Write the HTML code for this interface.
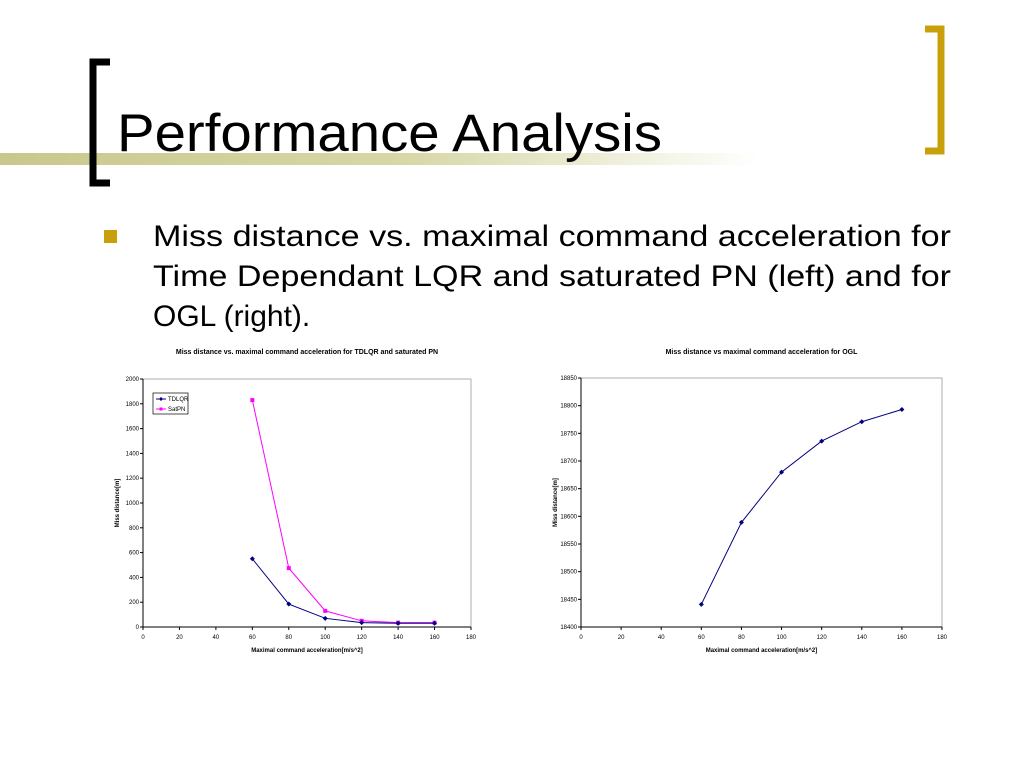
<!DOCTYPE html>
<html><head><meta charset="utf-8"><style>
body{margin:0;background:#fff;}
svg{display:block;font-family:"Liberation Sans",Arial,sans-serif;}
</style></head><body>
<svg id="root" width="1024" height="768" viewBox="0 0 1024 768">
<defs><linearGradient id="band" x1="0" x2="1"><stop offset="0" stop-color="#c8c88c"/><stop offset="0.55" stop-color="#d8d8a8"/><stop offset="1" stop-color="#ffffff"/></linearGradient></defs>
<rect x="0" y="153" width="760" height="12" fill="url(#band)"/>
<path d="M110,62 H93 V183 H110" fill="none" stroke="#000" stroke-width="7"/>
<path d="M925,29 H941 V151 H925" fill="none" stroke="#c9a00c" stroke-width="7"/>
<text x="117" y="151" font-size="53" textLength="545" lengthAdjust="spacingAndGlyphs">Performance Analysis</text>
<rect x="104" y="230" width="13" height="13" fill="#c9a00c"/>
<g font-size="30" fill="#000">
<text x="153" y="246" textLength="798" lengthAdjust="spacingAndGlyphs">Miss distance vs. maximal command acceleration for</text>
<text x="153" y="286" textLength="798" lengthAdjust="spacingAndGlyphs">Time Dependant LQR and saturated PN (left) and for</text>
<text x="153" y="326">OGL (right).</text>
</g>
<g id="c1"></g>
<g id="c2"></g>
</svg>
<script>
const xCats=[60,80,100,120,140,160];
const tdlqr=[550,185,70,35,30,30];
const satpn=[1830,475,130,50,35,35];
const ogl=[18441,18589,18680,18736,18771,18793];
const xTicks=[0,20,40,60,80,100,120,140,160,180];
const yTicks1=[0,200,400,600,800,1000,1200,1400,1600,1800,2000];
const yTicks2=[18400,18450,18500,18550,18600,18650,18700,18750,18800,18850];
const NS="http://www.w3.org/2000/svg";
function mk(p,t,a){const e=document.createElementNS(NS,t);for(const k in a)e.setAttribute(k,a[k]);p.appendChild(e);return e;}
function chart(g,o){
  const sx=v=>o.x0+(v-0)/(180)*(o.x1-o.x0);
  const sy=v=>o.y0-(v-o.ymin)/(o.ymax-o.ymin)*(o.y0-o.y1);
  const ttl=mk(g,'text',{x:(o.x0+o.x1)/2,y:o.ty,'font-size':7,'font-weight':'bold','text-anchor':'middle'});
  ttl.textContent=o.title;
  
  
  const fr=mk(g,'rect',{x:o.x0,y:o.y1,width:o.x1-o.x0,height:o.y0-o.y1,fill:'none',stroke:'#999','stroke-width':0.8});
  
  
  mk(g,'line',{x1:o.x0,y1:o.y0,x2:o.x1,y2:o.y0,stroke:'#000','stroke-width':1});
  mk(g,'line',{x1:o.x0,y1:o.y0,x2:o.x0,y2:o.y1,stroke:'#000','stroke-width':1});
  xTicks.forEach(v=>{const x=sx(v);mk(g,'line',{x1:x,y1:o.y0,x2:x,y2:o.y0+3,stroke:'#000'});
    const t=mk(g,'text',{x:x,y:o.y0+12,'font-size':6,'text-anchor':'middle'});t.textContent=v;
    
    });
  o.yt.forEach(v=>{const y=sy(v);mk(g,'line',{x1:o.x0-3,y1:y,x2:o.x0,y2:y,stroke:'#000'});
    const t=mk(g,'text',{x:o.x0-4,y:y+2,'font-size':6,'text-anchor':'end'});t.textContent=v;
    
    });
  const xl=mk(g,'text',{x:(o.x0+o.x1)/2,y:o.y0+25,'font-size':6,'font-weight':'bold','text-anchor':'middle'});
  xl.textContent='Maximal command acceleration[m/s^2]';
  
  
  const yx=o.x0-24,yy=(o.y0+o.y1)/2;
  const yl=mk(g,'text',{x:yx,y:yy,'font-size':6,'font-weight':'bold','text-anchor':'middle',transform:`rotate(-90 ${yx} ${yy})`});
  yl.textContent='Miss distance[m]';
  
  
  o.series.forEach(s=>{
    const pts=s.vals.map((v,i)=>sx(xCats[i])+','+sy(v)).join(' ');
    const pl=mk(g,'polyline',{points:pts,fill:'none',stroke:s.color,'stroke-width':1});
    
    
    s.vals.forEach((v,i)=>{const x=sx(xCats[i]),y=sy(v);
      const m=s.sq?mk(g,'rect',{x:x-2,y:y-2,width:4,height:4,fill:s.color}):mk(g,'path',{d:`M${x},${y-2.5}L${x+2.5},${y}L${x},${y+2.5}L${x-2.5},${y}Z`,fill:s.color});
      
      });
  });
}
const c1=document.getElementById('c1'),c2=document.getElementById('c2');
chart(c1,{x0:143,x1:471,y0:627,y1:379,ymin:0,ymax:2000,yt:yTicks1,ty:354,title:'Miss distance vs. maximal command acceleration for TDLQR and saturated PN',
 series:[{name:'satpn',vals:satpn,color:'#ff00ff',sq:true},{name:'tdlqr',vals:tdlqr,color:'#000080',sq:false}]});
chart(c2,{x0:581,x1:942,y0:627,y1:378,ymin:18400,ymax:18850,yt:yTicks2,ty:354,title:'Miss distance vs maximal command acceleration for OGL',
 series:[{name:'ogl',vals:ogl,color:'#000080',sq:false}]});
const lg=mk(c1,'g',{});


mk(lg,'rect',{x:153,y:393,width:35,height:21,fill:'#fff',stroke:'#000','stroke-width':0.7});
mk(lg,'line',{x1:156,y1:399,x2:166,y2:399,stroke:'#000080'});
mk(lg,'path',{d:'M161,397L163,399L161,401L159,399Z',fill:'#000080'});
const l1=mk(lg,'text',{x:168,y:401,'font-size':6});l1.textContent='TDLQR';


mk(lg,'line',{x1:156,y1:409,x2:166,y2:409,stroke:'#ff00ff'});
mk(lg,'rect',{x:159.5,y:407.5,width:3,height:3,fill:'#ff00ff'});
const l2=mk(lg,'text',{x:168,y:411,'font-size':6});l2.textContent='SatPN';


</script>
</body></html>
